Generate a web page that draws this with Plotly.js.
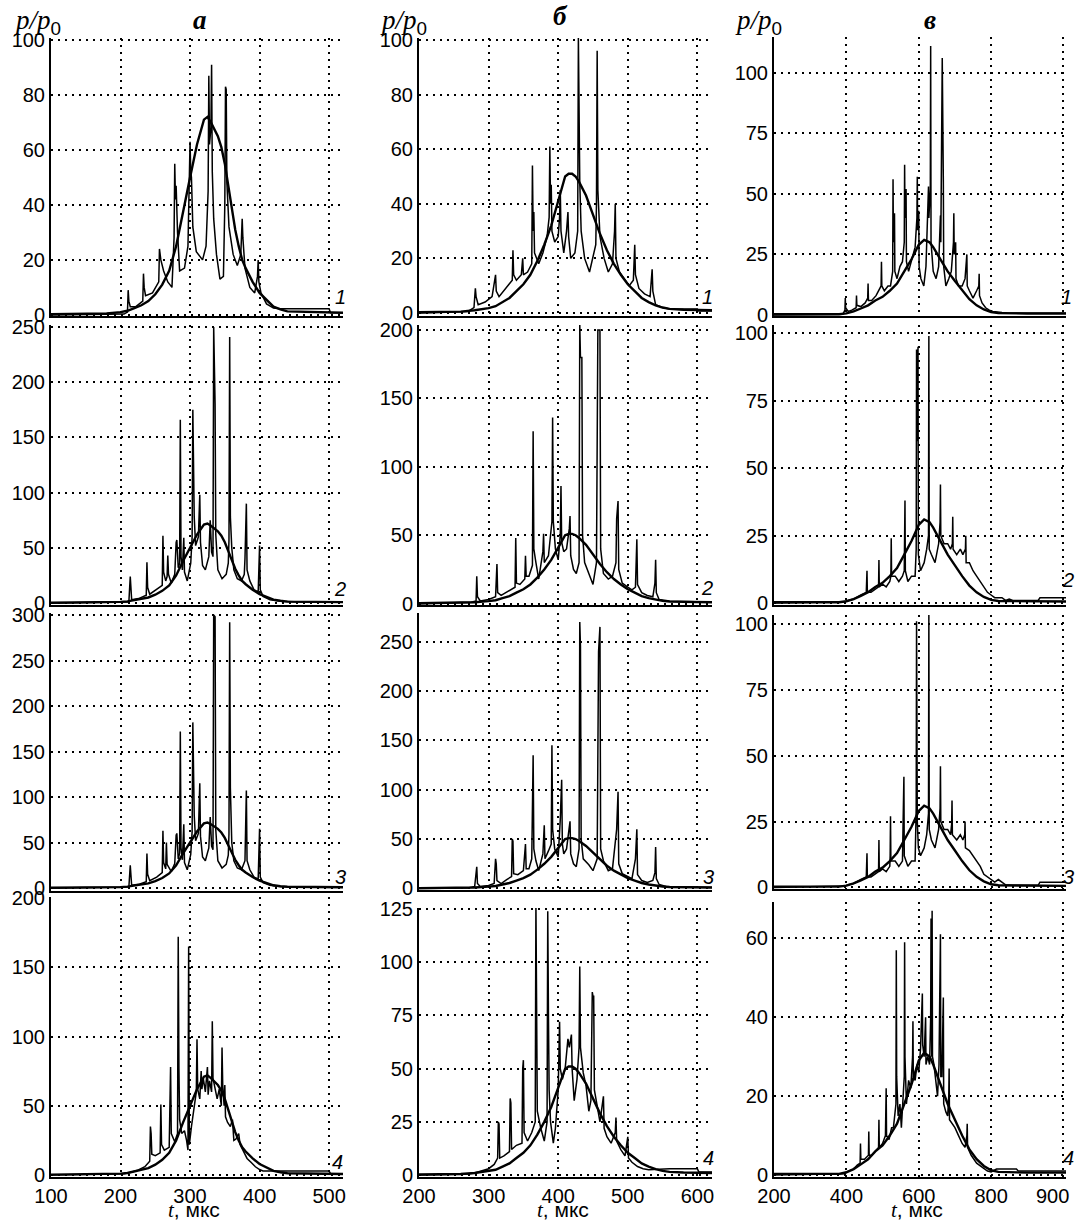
<!DOCTYPE html>
<html><head><meta charset="utf-8">
<script src="https://cdn.plot.ly/plotly-3.0.1.min.js"></script>
<style>html,body{margin:0;padding:0;background:#fff}#chart{width:1080px;height:1223px}</style>
</head><body><div id="chart"></div>
<script>
// ---------------- DATA ----------------
// column a: smooth (averaged) curve, t in mks and p/p0
const aSmoothT = [100,180,200,210,220,230,240,250,260,270,280,290,300,310,320,325,330,340,345,350,355,360,365,370,375,380,390,400,410,420,430,440,520];
const aSmoothP = [0.3,0.5,1,1.5,2.5,3.5,5,7.5,11,16,25,38,50,62,71,72,70,65,61,55,47,39,31,25,20,17,12,8,5.5,3,2,1.3,0.8];
// column б
const bSmoothT = [200,260,280,300,310,320,330,340,350,360,370,380,390,400,405,410,415,420,425,430,440,450,460,470,480,490,500,510,520,530,540,550,560,580,621];
const bSmoothP = [0.3,0.5,1,1.8,2.5,4,5.5,8,10.5,14,19,25,32,41,46,50,51,51,50,48,43,36,29,23,18,14,10.5,8,5.5,4,2.8,2,1.5,1.2,1.0];
// column в
const cSmoothT = [200,380,400,420,440,460,480,500,520,540,560,580,600,615,630,640,660,680,700,720,740,760,780,800,820,900,1007];
const cSmoothP = [0.3,0.3,0.7,1.5,2.7,4,6,7.5,10,13,18,23,29,31,30,28,23,18,14,10,6.5,4,2.3,1.2,0.8,0.6,0.6];

// spiky signals, [t, p/p0]
const a1Thin = [[100,0],[205,0.3],[210,1],[211,9],[212,5],[214,3],[222,3],[232,5],[233,15],[234,10],[236,7],[246,8],[255,12],[256,24],[257,22],[258,20],[262,16],[268,12],[274,10],[277,28],[278,55],[279,42],[280,47],[282,30],[285,16],[292,17],[297,25],[299,48],[300,63],[301,52],[302,50],[304,32],[309,23],[318,20],[323,25],[326,45],[327,87],[328,62],[330,68],[331,91],[332,52],[334,35],[338,22],[343,13],[348,14],[350,40],[351,83],[352,82],[353,48],[356,32],[362,22],[368,18],[373,22],[375,35],[376,28],[379,17],[386,10],[393,8],[397,14],[398,20],[399,12],[402,8],[410,4],[420,2.5],[430,2.2],[500,2.2],[502,0.8],[520,0.8]];
const a2Thin = [[100,0],[185,0.5],[212,1],[214,24],[215,15],[216,3],[226,4],[237,7],[238,37],[239,14],[242,8],[252,12],[260,16],[261,61],[262,28],[265,20],[267,24],[268,43],[269,26],[273,18],[278,26],[280,55],[281,57],[283,32],[285,36],[286,166],[287,42],[289,30],[291,59],[292,28],[296,20],[301,36],[303,60],[304,175],[305,106],[306,78],[308,52],[312,60],[314,98],[315,55],[318,34],[322,30],[327,42],[329,75],[331,46],[333,42],[334,250],[336,180],[337,62],[340,30],[346,22],[352,26],[355,36],[356,57],[357,241],[358,78],[360,50],[363,30],[368,22],[374,20],[378,26],[379,40],[381,90],[382,30],[386,20],[392,12],[398,10],[399,45],[400,52],[401,12],[405,6],[415,3],[430,1.5],[460,1],[520,1]];
const a3Thin = [[100,0],[190,0.5],[212,1],[214,25],[215,16],[216,3],[226,4],[237,7],[238,38],[239,15],[242,8],[252,12],[260,17],[261,63],[262,28],[265,21],[266,50],[267,26],[273,18],[278,27],[280,58],[281,60],[283,32],[285,38],[286,172],[287,44],[289,31],[291,70],[292,28],[296,20],[301,37],[303,62],[304,182],[305,110],[306,80],[308,52],[312,60],[314,115],[315,57],[318,34],[322,30],[327,44],[329,78],[331,46],[333,42],[334,300],[336,298],[337,64],[340,30],[346,22],[352,26],[355,36],[356,60],[357,292],[358,110],[360,50],[363,30],[368,22],[374,20],[378,28],[379,30],[381,107],[382,30],[386,20],[392,12],[398,10],[399,55],[400,65],[401,12],[405,6],[415,3],[430,1.5],[460,1],[520,1]];
const a4Thin = [[100,0],[195,0.5],[205,1],[215,2],[225,3.5],[235,6],[242,10],[243,35],[244,30],[245,15],[250,14],[257,16],[258,51],[259,22],[263,18],[270,20],[271,72],[272,78],[273,30],[278,24],[282,30],[283,172],[284,77],[285,40],[288,30],[292,32],[295,25],[297,18],[298,165],[299,22],[302,35],[306,50],[309,60],[310,98],[311,62],[314,55],[316,75],[317,62],[319,70],[322,60],[325,78],[326,58],[328,68],[331,60],[332,111],[333,70],[336,62],[339,55],[342,62],[345,50],[346,92],[347,65],[349,50],[350,65],[351,42],[354,38],[358,35],[361,40],[363,25],[366,26],[370,30],[372,22],[376,18],[382,12],[388,9],[394,6],[400,4],[405,3],[500,3],[502,1],[520,1]];

const b1Thin = [[200,0],[270,0.5],[279,2],[281,9],[282,6],[285,3],[295,4],[305,6],[310,14],[311,8],[315,6],[325,9],[334,12],[335,23],[336,14],[340,12],[347,14],[349,20],[350,14],[356,15],[362,18],[363,54],[364,30],[365,37],[366,22],[372,18],[378,22],[384,28],[387,35],[388,61],[389,40],[390,47],[391,30],[395,26],[400,28],[402,35],[403,45],[404,30],[408,22],[412,30],[414,37],[415,28],[418,20],[424,22],[428,30],[429,101],[430,60],[431,48],[433,30],[438,20],[445,15],[450,20],[454,25],[455,40],[456,96],[457,45],[458,40],[460,28],[466,20],[472,15],[478,18],[481,30],[482,40],[483,20],[488,15],[496,12],[502,10],[508,12],[510,25],[511,14],[516,9],[524,7],[532,6],[535,16],[536,8],[540,3],[550,2],[560,1.5],[600,1.5],[602,0.7],[621,0.7]];
const b2Thin = [[200,0],[275,1],[282,2],[283,20],[284,5],[288,2],[300,3],[310,5],[312,29],[313,8],[318,6],[328,9],[338,12],[339,48],[340,15],[345,14],[352,18],[353,35],[354,20],[358,20],[363,28],[364,126],[365,40],[368,30],[372,18],[378,38],[379,51],[380,30],[386,35],[391,60],[392,136],[393,60],[396,40],[400,32],[403,50],[404,86],[405,45],[408,38],[412,40],[416,55],[417,64],[418,35],[422,25],[426,22],[430,30],[431,204],[432,180],[434,180],[435,50],[438,30],[444,22],[450,14],[455,30],[457,200],[460,200],[461,40],[465,22],[472,18],[478,20],[483,30],[484,62],[486,75],[487,25],[492,15],[500,12],[506,10],[511,12],[513,47],[514,14],[520,8],[528,6],[536,5],[539,15],[540,32],[541,8],[545,3],[560,2],[580,1.5],[600,1],[621,1]];
const b3Thin = [[200,0],[270,0.5],[280,2],[283,22],[284,5],[288,2],[300,3],[308,5],[310,30],[311,25],[312,8],[318,5],[326,9],[333,12],[334,50],[335,48],[336,15],[342,14],[350,18],[352,44],[353,45],[354,20],[358,20],[362,30],[364,135],[365,40],[368,28],[372,18],[378,35],[380,64],[381,30],[386,38],[390,45],[391,145],[392,60],[395,40],[400,32],[403,70],[405,110],[406,45],[408,35],[412,40],[416,60],[417,68],[418,35],[422,25],[426,22],[430,40],[431,270],[432,245],[433,50],[436,30],[444,24],[450,18],[456,30],[458,240],[460,265],[461,40],[465,28],[472,18],[478,20],[484,60],[486,98],[487,25],[492,15],[500,12],[506,10],[511,30],[513,60],[514,14],[520,8],[528,6],[536,8],[539,16],[540,42],[541,10],[545,4],[555,2],[600,1],[621,1]];
const b4Thin = [[200,0],[270,0.5],[280,1],[292,2],[300,3],[308,5],[313,8],[314,25],[315,24],[316,8],[322,9],[330,11],[331,36],[332,34],[333,12],[340,14],[348,15],[349,50],[350,54],[351,20],[356,16],[362,20],[367,25],[368,128],[369,92],[370,30],[375,22],[380,16],[384,25],[385,124],[386,75],[387,40],[389,25],[393,15],[396,22],[400,40],[402,72],[403,50],[406,45],[410,50],[414,64],[416,60],[419,66],[420,50],[423,35],[427,45],[430,60],[431,98],[432,60],[436,48],[440,42],[444,30],[447,35],[449,86],[450,84],[451,84],[452,40],[456,32],[460,25],[465,37],[466,22],[470,18],[476,15],[482,20],[483,27],[484,16],[490,12],[496,9],[500,18],[501,8],[506,6],[514,4],[522,3],[530,2.5],[560,3],[600,3],[602,1.5],[621,1.5]];

const c1Thin = [[200,0],[390,0.3],[396,2],[397,7],[398,3],[405,1.5],[415,2],[427,3],[428,8],[429,4],[440,3.5],[452,5],[459,7],[460,13],[461,6],[470,6],[482,8],[490,10],[496,12],[497,22],[498,12],[505,10],[515,12],[522,12],[528,18],[529,56],[530,30],[533,42],[534,18],[540,15],[548,20],[555,22],[560,30],[561,62],[562,40],[565,52],[566,22],[572,18],[580,22],[590,28],[595,40],[596,57],[597,35],[600,43],[601,20],[606,15],[614,12],[620,20],[627,53],[628,40],[632,52],[633,111],[634,30],[640,18],[648,15],[655,20],[660,41],[661,30],[665,106],[666,55],[668,55],[669,20],[675,12],[683,15],[690,18],[696,30],[697,42],[698,25],[702,30],[703,15],[710,12],[720,12],[728,15],[733,25],[734,12],[740,10],[750,7],[760,10],[766,12],[767,17],[768,8],[775,5],[785,3],[795,2],[805,1.5],[830,1],[850,0.8],[1007,0.8]];
const c2Thin = [[200,0],[395,0.5],[405,1],[420,1.5],[440,3],[455,4],[457,12],[458,4],[468,4],[480,5],[489,6],[490,16],[491,6],[500,7],[510,6],[520,8],[523,10],[524,24],[525,10],[535,10],[545,8],[555,10],[560,12],[562,38],[563,12],[570,8],[580,10],[590,10],[593,20],[594,94],[597,60],[598,95],[599,18],[605,12],[615,15],[622,20],[627,25],[628,99],[629,20],[635,18],[645,15],[655,22],[659,30],[660,44],[661,25],[670,22],[680,22],[688,20],[693,22],[694,32],[695,20],[705,18],[715,20],[722,18],[729,20],[730,25],[731,15],[740,15],[750,12],[760,10],[770,8],[780,6],[790,4],[800,3],[810,2],[830,2],[840,1],[850,1.5],[860,1],[930,1],[935,2],[1007,2]];
const c3Thin = [[200,0],[395,0.5],[405,1],[420,1.5],[440,3],[455,4],[457,13],[458,4],[468,4],[480,5],[489,6],[490,18],[491,6],[500,7],[510,6],[520,8],[521,12],[522,27],[523,10],[535,10],[545,8],[555,10],[558,28],[559,42],[560,12],[570,8],[580,10],[590,10],[593,30],[594,101],[596,25],[599,15],[605,12],[615,15],[622,20],[627,28],[628,104],[629,22],[635,18],[645,15],[655,22],[659,30],[660,46],[661,25],[670,22],[680,22],[688,20],[691,24],[692,33],[693,20],[705,18],[715,20],[722,18],[727,20],[728,25],[729,15],[740,14],[750,12],[760,10],[770,8],[780,5],[790,4],[800,3],[810,2],[820,3],[830,2],[840,1],[860,0.8],[930,0.8],[935,2],[1007,2]];
const c4Thin = [[200,0],[395,0.3],[405,1],[420,1.5],[430,2.5],[438,3],[439,8],[440,4],[450,4],[461,5],[462,11],[463,5],[470,5],[480,6],[489,7],[490,14],[491,7],[500,8],[508,10],[510,22],[511,10],[518,9],[525,12],[530,12],[537,18],[538,57],[539,25],[543,15],[548,18],[552,12],[556,20],[560,25],[561,59],[562,30],[566,18],[572,24],[578,22],[583,30],[584,39],[585,25],[590,24],[595,28],[600,26],[605,32],[610,46],[611,33],[615,30],[619,40],[620,28],[625,30],[630,28],[633,40],[634,65],[636,30],[637,67],[638,30],[642,28],[648,24],[652,20],[656,28],[660,61],[661,25],[664,25],[668,45],[669,18],[675,16],[680,15],[683,20],[684,27],[685,14],[692,13],[700,12],[710,10],[720,8],[728,7],[733,10],[734,13],[735,7],[745,5],[760,3],[775,2],[790,1],[800,0.8],[815,1.5],[870,1.5],[875,1],[1007,1]];

// tick labels
const colTitles = ['а','б','в'];
const curveNums = ['1','2','3','4'];
const aXTicks = [100,200,300,400,500];
const bXTicks = [200,300,400,500,600];
const cXTickText = ['200','400','600','800','900'];

// ---------------- LAYOUT / STYLE ----------------
const W = 1080, H = 1223;
const px2x = p => p / W;
const px2y = p => 1 - p / H;
const colPx = [[51,343],[419,712],[774,1066]];
const colRange = [[100,520],[200,621],[200,1007]];
const colGrid = [[200,300,400,500],[300,400,500,600],[400,600,800,1000]];
const smooth = [[aSmoothT,aSmoothP],[bSmoothT,bSmoothP],[cSmoothT,cSmoothP]];
const thin = [[a1Thin,a2Thin,a3Thin,a4Thin],[b1Thin,b2Thin,b3Thin,b4Thin],[c1Thin,c2Thin,c3Thin,c4Thin]];
const rowPx = [
  [[38,316],[325,605],[613,891],[897,1177]],
  [[38,316],[325,605],[613,890],[908,1177]],
  [[37,316],[325,605],[615,889],[902,1177]]
];
const yRange = [
  [[-0.4,100.7],[-1.8,251.8],[-3.3,302.2],[-1.4,200.7]],
  [[-1.1,100.7],[-1,203.7],[-1.6,279.1],[-0.9,125.5]],
  [[-0.4,114.7],[-0.7,103.1],[-0.6,103.4],[-0.5,69.2]]
];
const yTicks = [
  [[0,20,40,60,80,100],[0,50,100,150,200,250],[0,50,100,150,200,250,300],[0,50,100,150,200]],
  [[0,20,40,60,80,100],[0,50,100,150,200],[0,50,100,150,200,250],[0,25,50,75,100,125]],
  [[0,25,50,75,100],[0,25,50,75,100],[0,25,50,75,100],[0,20,40,60]]
];
const numPos = [
  [[340,297],[340,589],[340,877],[337,1162]],
  [[707,297],[707,588],[708,877],[708,1158]],
  [[1066,297],[1068,580],[1068,877],[1068,1158]]
];

const tickFont = {family:'Liberation Sans, Arial, sans-serif', size:20, color:'#000'};
const gridStyle = {showgrid:true, gridcolor:'#000', gridwidth:2, griddash:'2px,5px'};

const data = [];
const layout = {
  width: W, height: H, margin:{l:0,r:0,t:0,b:0},
  paper_bgcolor:'#fff', plot_bgcolor:'#fff', showlegend:false,
  annotations: []
};

for (let c = 0; c < 3; c++) {
  for (let r = 0; r < 4; r++) {
    const n = c*4 + r + 1;
    const xa = 'x' + n, ya = 'y' + n;
    const xk = 'xaxis' + n, yk = 'yaxis' + n;
    const th = thin[c][r];
    data.push({type:'scatter', mode:'lines', x: th.map(d=>d[0]), y: th.map(d=>d[1]),
      xaxis:xa, yaxis:ya, line:{color:'#000', width:1.5}, hoverinfo:'skip'});
    data.push({type:'scatter', mode:'lines', x: smooth[c][0], y: smooth[c][1],
      xaxis:xa, yaxis:ya, line:{color:'#000', width:2.4}, hoverinfo:'skip'});

    const xax = Object.assign({
      domain:[px2x(colPx[c][0]), px2x(colPx[c][1])], range:colRange[c], anchor:ya,
      showline:true, linecolor:'#000', linewidth:2, zeroline:false, ticks:'',
      tickmode:'array', tickvals:colGrid[c], showticklabels:false,
      tickfont:tickFont, fixedrange:true
    }, gridStyle);
    if (r === 3) {
      xax.showticklabels = true;
      if (c === 0) { xax.tickvals = aXTicks; }
      else if (c === 1) { xax.tickvals = bXTicks; }
      else {
        xax.showgrid = false;
        xax.tickvals = [200,400,600,800,970];
        xax.ticktext = cXTickText;
        xax.minor = Object.assign({tickmode:'array', tickvals:colGrid[c], ticks:''}, gridStyle);
      }
    }
    layout[xk] = xax;
    layout[yk] = Object.assign({
      domain:[px2y(rowPx[c][r][1]), px2y(rowPx[c][r][0])], range:yRange[c][r], anchor:xa,
      showline:true, linecolor:'#000', linewidth:2, zeroline:false, ticks:'',
      tickmode:'array', tickvals:yTicks[c][r], tickfont:tickFont, fixedrange:true
    }, gridStyle);

    layout.annotations.push({xref:'paper', yref:'paper', x:px2x(numPos[c][r][0]), y:px2y(numPos[c][r][1]),
      xanchor:'center', yanchor:'middle', showarrow:false, text:'<i>'+curveNums[r]+'</i>',
      font:{family:'Liberation Sans, Arial, sans-serif', size:20, color:'#000'}});
  }
}

// column titles, y labels, x labels
const titleX = [200, 560, 930];
const titleY = [20, 16, 20];
const yLabX = [12, 378, 733];
for (let c = 0; c < 3; c++) {
  layout.annotations.push({xref:'paper', yref:'paper', x:px2x(titleX[c]), y:px2y(titleY[c]),
    xanchor:'center', yanchor:'middle', showarrow:false, text:'<b><i>'+colTitles[c]+'</i></b>',
    font:{family:'Liberation Serif, Times New Roman, serif', size:27, color:'#000'}});
  layout.annotations.push({xref:'paper', yref:'paper', x:px2x(yLabX[c]), y:px2y(22),
    xanchor:'left', yanchor:'middle', showarrow:false,
    text:'<i>p/p</i><sub><span style="font-family:Liberation Sans">0</span></sub>',
    font:{family:'Liberation Serif, Times New Roman, serif', size:27, color:'#000'}});
  const cx = (colPx[c][0] + colPx[c][1]) / 2 - 3;
  layout.annotations.push({xref:'paper', yref:'paper', x:px2x(cx), y:0,
    xanchor:'center', yanchor:'bottom', showarrow:false, borderpad:0,
    text:'<i style="font-family:Liberation Serif">t</i>, мкс',
    font:{family:'Liberation Sans, Arial, sans-serif', size:21, color:'#000'}});
}

Plotly.newPlot('chart', data, layout, {staticPlot:true, displayModeBar:false});
</script>
</body></html>
